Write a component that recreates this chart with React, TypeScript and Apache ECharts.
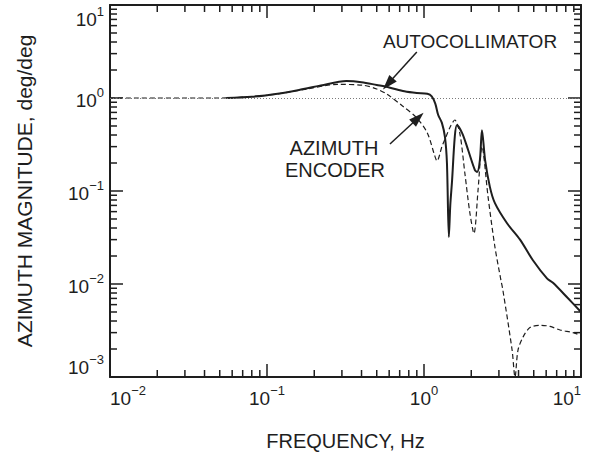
import React, { useEffect, useRef } from "react";
import * as echarts from "echarts";

// ---- data ----
const autocollimatorFreq = [
  0.055, 0.08, 0.12, 0.16, 0.22, 0.32, 0.4, 0.5, 0.6, 0.75, 0.9, 1.05, 1.12, 1.18,
  1.23, 1.3, 1.36, 1.4, 1.44, 1.47, 1.51, 1.57, 1.62, 1.75, 1.91, 2.11, 2.18, 2.27,
  2.34, 2.45, 2.63, 2.83, 3.38, 4.09, 4.94, 6.07, 6.63, 8.15, 10,
];
const autocollimatorMag = [
  1.0, 1.03, 1.12, 1.22, 1.36, 1.52, 1.48, 1.38, 1.3, 1.18, 1.13, 1.11, 1.04, 0.87,
  0.66, 0.54, 0.38, 0.2, 0.032, 0.07, 0.131, 0.38, 0.51, 0.42, 0.276, 0.168, 0.16, 0.215,
  0.45, 0.215, 0.11, 0.074, 0.045, 0.03, 0.018, 0.0115, 0.0103, 0.0072, 0.005,
];
const encoderFreq = [
  0.01, 0.05, 0.1, 0.18, 0.28, 0.41, 0.5, 0.58, 0.73, 0.9, 1.05, 1.17, 1.21, 1.3,
  1.36, 1.47, 1.57, 1.69, 1.82, 1.96, 2.08, 2.21, 2.34, 2.56, 2.83, 3.09, 3.18, 3.64,
  3.8, 3.97, 4.28, 4.73, 5.48, 6.35, 7.35, 8.89, 10,
];
const encoderMag = [
  1.0, 1.0, 1.07, 1.25, 1.4, 1.37, 1.25, 1.1, 0.82, 0.61, 0.42, 0.24, 0.21, 0.3,
  0.36, 0.49, 0.58, 0.42, 0.156, 0.058, 0.035, 0.103, 0.3, 0.086, 0.025, 0.011, 0.0086, 0.00195,
  0.001, 0.00195, 0.0027, 0.0034, 0.0036, 0.0035, 0.0032, 0.003, 0.0028,
];
const referenceLevel = 1;
const xMinorTicks = [
  0.02, 0.03, 0.04, 0.05, 0.06, 0.07, 0.08, 0.09,
  0.2, 0.3, 0.4, 0.5, 0.6, 0.7, 0.8, 0.9,
  2, 3, 4, 5, 6, 7, 8, 9,
];
const yMinorTicks = [
  0.002, 0.003, 0.004, 0.005, 0.006, 0.007, 0.008, 0.009,
  0.02, 0.03, 0.04, 0.05, 0.06, 0.07, 0.08, 0.09,
  0.2, 0.3, 0.4, 0.5, 0.6, 0.7, 0.8, 0.9,
  2, 3, 4, 5, 6, 7, 8, 9,
];
const xRange = [0.01, 10];
const yRange = [0.001, 10];
const xTitle = "FREQUENCY, Hz";
const yTitle = "AZIMUTH MAGNITUDE, deg/deg";
const labelAutocollimator = "AUTOCOLLIMATOR";
const labelEncoder = ["AZIMUTH", "ENCODER"];
// arrow annotations in data coordinates [freq, magnitude]
const arrowAutocollimator = [[0.9, 3.13], [0.59, 1.42]];
const arrowEncoder = [[0.607, 0.32], [0.917, 0.61]];

const FONT = "'Liberation Sans', Arial, Helvetica, sans-serif";
const INK = "#1e1e1e";
const ARROW_HEAD = "path://M0,0L5,14L-5,14Z";

function powLabel(v: number) {
  const e = Math.round(Math.log10(v));
  const s = e < 0 ? "\u2212" + -e : String(e);
  return `{b|10}{s|${s}}`;
}
const rich = {
  b: { fontSize: 19, fontFamily: FONT, color: INK, lineHeight: 24, verticalAlign: "bottom" },
  s: { fontSize: 13, fontFamily: FONT, color: INK, lineHeight: 14, verticalAlign: "top" },
};

export default function App() {
  const ref = useRef<HTMLDivElement>(null);
  useEffect(() => {
    if (!ref.current) return;
    const chart = echarts.init(ref.current, undefined, { renderer: "svg" });
    const axisLine = { show: true, onZero: false, lineStyle: { color: INK, width: 2 } };
    const axisTick = { show: true, inside: true, length: 13, lineStyle: { color: INK, width: 1.5 } };
    const tickStyle = { stroke: INK, lineWidth: 1.5 };
    const textBase = { fontFamily: FONT, fill: INK, textAlign: "center", textVerticalAlign: "middle" };
    const option: any = {
      animation: false,
      backgroundColor: "#ffffff",
      grid: { left: 110, right: 11, top: 5, bottom: 82, containLabel: false },
      xAxis: [
        {
          type: "log",
          logBase: 10,
          min: xRange[0],
          max: xRange[1],
          position: "bottom",
          axisLine,
          axisTick,
          splitLine: { show: false },
          axisLabel: {
            formatter: powLabel,
            rich,
            margin: 7,
            alignMinLabel: "left",
            alignMaxLabel: "right",
          },
          name: xTitle,
          nameLocation: "middle",
          nameGap: 54,
          nameTextStyle: { fontSize: 20, fontFamily: FONT, color: INK },
        },
        {
          type: "log",
          logBase: 10,
          min: xRange[0],
          max: xRange[1],
          position: "top",
          axisLine,
          axisTick,
          splitLine: { show: false },
          axisLabel: { show: false },
        },
      ],
      yAxis: [
        {
          type: "log",
          logBase: 10,
          min: yRange[0],
          max: yRange[1],
          position: "left",
          axisLine,
          axisTick,
          splitLine: { show: false },
          axisLabel: {
            formatter: powLabel,
            rich,
            margin: 6,
            verticalAlignMinLabel: "bottom",
            verticalAlignMaxLabel: "top",
          },
          name: yTitle,
          nameLocation: "middle",
          nameGap: 75,
          nameTextStyle: { fontSize: 21, fontFamily: FONT, color: INK },
        },
        {
          type: "log",
          logBase: 10,
          min: yRange[0],
          max: yRange[1],
          position: "right",
          axisLine,
          axisTick,
          splitLine: { show: false },
          axisLabel: { show: false },
        },
      ],
      graphic: [
        { type: "text", x: 470, y: 41, style: { ...textBase, text: labelAutocollimator, fontSize: 19 } },
        { type: "text", x: 334, y: 148, style: { ...textBase, text: labelEncoder[0], fontSize: 20 } },
        { type: "text", x: 335, y: 170, style: { ...textBase, text: labelEncoder[1], fontSize: 20 } },
      ],
      series: [
        {
          type: "custom",
          coordinateSystem: "cartesian2d",
          xAxisIndex: 0,
          yAxisIndex: 0,
          clip: false,
          silent: true,
          data: xMinorTicks.map((v) => [v, 1]),
          renderItem: (params: any, api: any) => {
            const p = api.coord([api.value(0), 1]);
            const cs = params.coordSys;
            return {
              type: "group",
              children: [
                { type: "line", shape: { x1: p[0], y1: cs.y + cs.height, x2: p[0], y2: cs.y + cs.height - 7 }, style: tickStyle },
                { type: "line", shape: { x1: p[0], y1: cs.y, x2: p[0], y2: cs.y + 7 }, style: tickStyle },
              ],
            };
          },
        },
        {
          type: "custom",
          coordinateSystem: "cartesian2d",
          xAxisIndex: 0,
          yAxisIndex: 0,
          clip: false,
          silent: true,
          data: yMinorTicks.map((v) => [1, v]),
          renderItem: (params: any, api: any) => {
            const p = api.coord([1, api.value(1)]);
            const cs = params.coordSys;
            return {
              type: "group",
              children: [
                { type: "line", shape: { x1: cs.x, y1: p[1], x2: cs.x + 7, y2: p[1] }, style: tickStyle },
                { type: "line", shape: { x1: cs.x + cs.width, y1: p[1], x2: cs.x + cs.width - 7, y2: p[1] }, style: tickStyle },
              ],
            };
          },
        },
        {
          name: "Azimuth encoder",
          type: "line",
          xAxisIndex: 0,
          yAxisIndex: 0,
          data: encoderFreq.map((f, i) => [f, encoderMag[i]]),
          showSymbol: false,
          symbol: "none",
          smooth: 0.3,
          clip: true,
          lineStyle: { color: INK, width: 1.2, type: [5, 3] },
          markLine: {
            silent: true,
            animation: false,
            label: { show: false },
            symbol: "none",
            lineStyle: { color: "#7a7a7a", width: 1, type: [1, 2] },
            data: [{ yAxis: referenceLevel }],
          },
        },
        {
          name: "Autocollimator",
          type: "line",
          xAxisIndex: 0,
          yAxisIndex: 0,
          data: autocollimatorFreq.map((f, i) => [f, autocollimatorMag[i]]),
          showSymbol: false,
          symbol: "none",
          smooth: 0.3,
          clip: true,
          lineStyle: { color: INK, width: 2 },
          markLine: {
            silent: true,
            animation: false,
            label: { show: false },
            symbol: ["none", ARROW_HEAD],
            lineStyle: { color: INK, width: 1.5, type: "solid" },
            itemStyle: { color: INK },
            data: [
              [
                { coord: arrowAutocollimator[0] },
                { coord: arrowAutocollimator[1], symbol: ARROW_HEAD, symbolSize: [10, 15] },
              ],
              [
                { coord: arrowEncoder[0] },
                { coord: arrowEncoder[1], symbol: ARROW_HEAD, symbolSize: [10, 15] },
              ],
            ],
          },
        },
      ],
    };
    chart.setOption(option);
    return () => chart.dispose();
  }, []);
  return (
    <div
      ref={ref}
      style={{ position: "absolute", left: 0, top: 0, width: 592, height: 459, background: "#fff" }}
    />
  );
}
